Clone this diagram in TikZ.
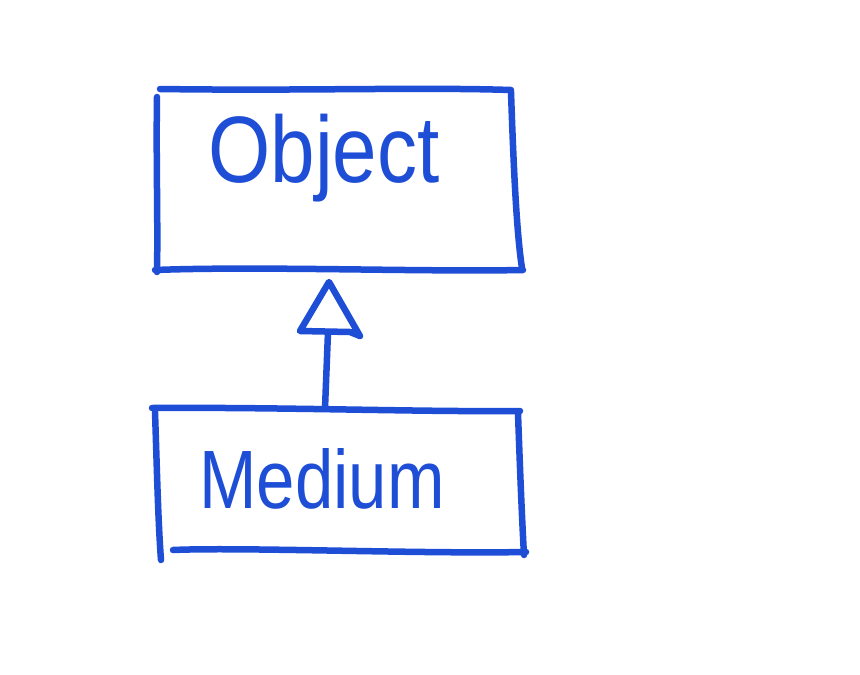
\documentclass[tikz,border=0pt]{standalone}
\usepackage{fontspec}
\setmainfont{Liberation Sans}
\definecolor{ink}{HTML}{1F4ED6}
\begin{document}
\begin{tikzpicture}[x=1pt,y=-1pt,
  pen/.style={draw=ink,line width=6.5pt,line cap=round,line join=round},
  cls/.style={draw=none,inner sep=0pt,text=ink},
  label/.style={text=ink,inner sep=0pt}]
\useasboundingbox (0,0) rectangle (860,675);
\fill[white] (0,0) rectangle (860,675);
% class nodes (regions)
\node[cls,minimum width=365pt,minimum height=182pt] (obj) at (340,180) {};
\node[cls,minimum width=370pt,minimum height=145pt] (med) at (338,481) {};
% Object box sides
\draw[pen] (160,89) .. controls (300,91) and (420,87) .. (511,90);
\draw[pen] (157,97) .. controls (156,160) and (158,220) .. (157,272);
\draw[pen] (511,92) .. controls (513,150) and (516,230) .. (522,268);
\draw[pen] (155,270) .. controls (260,266) and (420,272) .. (523,270);
% Medium box sides
\draw[pen] (152,408) .. controls (280,407) and (420,412) .. (520,411);
\draw[pen] (155,412) .. controls (157,470) and (158,520) .. (161,560);
\draw[pen] (518,413) .. controls (520,470) and (522,520) .. (524,555);
\draw[pen] (173,550) .. controls (240,547) and (420,554) .. (526,552);
% labels
\node[label] (objtext) at (324,158) {\scalebox{1}[1.18]{\fontsize{80pt}{80pt}\selectfont Object}};
\node[label] (medtext) at (322,479) {\scalebox{1}[1.2]{\fontsize{69pt}{69pt}\selectfont Medium}};
% generalisation arrow: from med to obj
\coordinate (apex) at (329,282);
\coordinate (tl) at (300,331);
\coordinate (tr) at (360,336);
\coordinate (tb) at (328,332);
\draw[pen] (med.north -| 325,0) -- (tb);
\draw[pen] (apex) -- (tl) -- (350,332) -- (tr) -- cycle;
\end{tikzpicture}
\end{document}
